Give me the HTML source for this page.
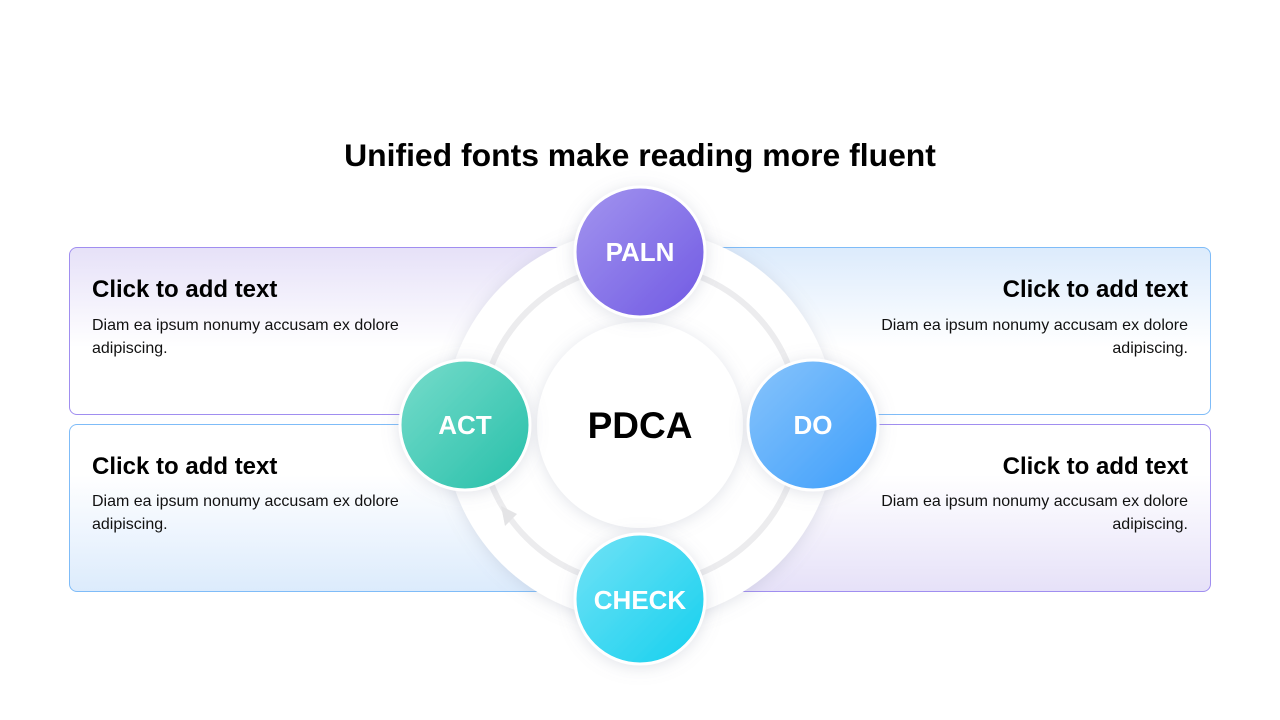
<!DOCTYPE html>
<html><head><meta charset="utf-8"><style>
*{margin:0;padding:0;box-sizing:border-box}
body{width:1280px;height:720px;background:#fff;position:relative;overflow:hidden;font-family:"Liberation Sans",Arial,sans-serif}
.title{position:absolute;left:0;width:1280px;top:137px;text-align:center;font-weight:bold;font-size:31.9px;color:#000}
.box{position:absolute;border-radius:8px;border:1.5px solid}
.t{position:absolute;font-weight:bold;font-size:24px;color:#000;white-space:nowrap}
.d{position:absolute;font-size:16px;line-height:23px;color:#111;white-space:nowrap}
.r{text-align:right}
svg{position:absolute;left:0;top:0}
</style></head><body>
<div class="title">Unified fonts make reading more fluent</div>
<div class="box" style="left:69px;top:247px;width:600px;height:168px;border-color:#a08ef0;background:linear-gradient(#e6e1f8,#fff 60%)"></div>
<div class="box" style="left:69px;top:424px;width:600px;height:168px;border-color:#7fbcf8;background:linear-gradient(#fff 30%,#dcebfc)"></div>
<div class="box" style="left:611px;top:247px;width:600px;height:168px;border-color:#7fbcf8;background:linear-gradient(#dcebfc,#fff 60%)"></div>
<div class="box" style="left:611px;top:424px;width:600px;height:168px;border-color:#a08ef0;background:linear-gradient(#fff 30%,#e6e1f8)"></div>
<svg width="1280" height="720">
<defs>
<filter id="sh" x="-30%" y="-30%" width="160%" height="160%"><feDropShadow dx="0" dy="2" stdDeviation="8" flood-color="#8890a8" flood-opacity="0.25"/></filter>
<linearGradient id="gp" x1="0" y1="0" x2="1" y2="1"><stop offset="0" stop-color="#a395ef"/><stop offset="1" stop-color="#7059e3"/></linearGradient>
<linearGradient id="gd" x1="0" y1="0" x2="1" y2="1"><stop offset="0" stop-color="#88c4fb"/><stop offset="1" stop-color="#3d9efb"/></linearGradient>
<linearGradient id="ga" x1="0" y1="0" x2="1" y2="1"><stop offset="0" stop-color="#78dccb"/><stop offset="1" stop-color="#25bfa9"/></linearGradient>
<linearGradient id="gc" x1="0" y1="0" x2="1" y2="1"><stop offset="0" stop-color="#72e2f6"/><stop offset="1" stop-color="#14d0ee"/></linearGradient>
</defs>
<circle cx="640" cy="425" r="196" fill="#fff" filter="url(#sh)"/>
<circle cx="640" cy="425" r="160" fill="none" stroke="#ececee" stroke-width="6"/>
<path d="M501,506 L517,514 L505,526 z" fill="#e4e4e6"/>
<circle cx="640" cy="425" r="103" fill="#fff" filter="url(#sh)"/>
<text x="640" y="438" text-anchor="middle" font-family="Liberation Sans" font-weight="bold" font-size="37" fill="#000">PDCA</text>
<g stroke="#fff" stroke-width="3" filter="url(#sh)">
<circle cx="640" cy="252" r="65" fill="url(#gp)"/>
<circle cx="813" cy="425" r="65" fill="url(#gd)"/>
<circle cx="465" cy="425" r="65" fill="url(#ga)"/>
<circle cx="640" cy="599" r="65" fill="url(#gc)"/>
</g>
<g font-family="Liberation Sans" font-weight="bold" font-size="26" fill="#fff" text-anchor="middle">
<text x="640" y="261">PALN</text>
<text x="813" y="434">DO</text>
<text x="465" y="434">ACT</text>
<text x="640" y="609">CHECK</text>
</g>
</svg>
<div class="t" style="left:92px;top:276px">Click to add text</div>
<div class="d" style="left:92px;top:314px">Diam ea ipsum nonumy accusam ex dolore<br>adipiscing.</div>
<div class="t" style="left:92px;top:453px">Click to add text</div>
<div class="d" style="left:92px;top:490px">Diam ea ipsum nonumy accusam ex dolore<br>adipiscing.</div>
<div class="t r" style="right:92px;top:276px">Click to add text</div>
<div class="d r" style="right:92px;top:314px">Diam ea ipsum nonumy accusam ex dolore<br>adipiscing.</div>
<div class="t r" style="right:92px;top:453px">Click to add text</div>
<div class="d r" style="right:92px;top:490px">Diam ea ipsum nonumy accusam ex dolore<br>adipiscing.</div>
</body></html>
